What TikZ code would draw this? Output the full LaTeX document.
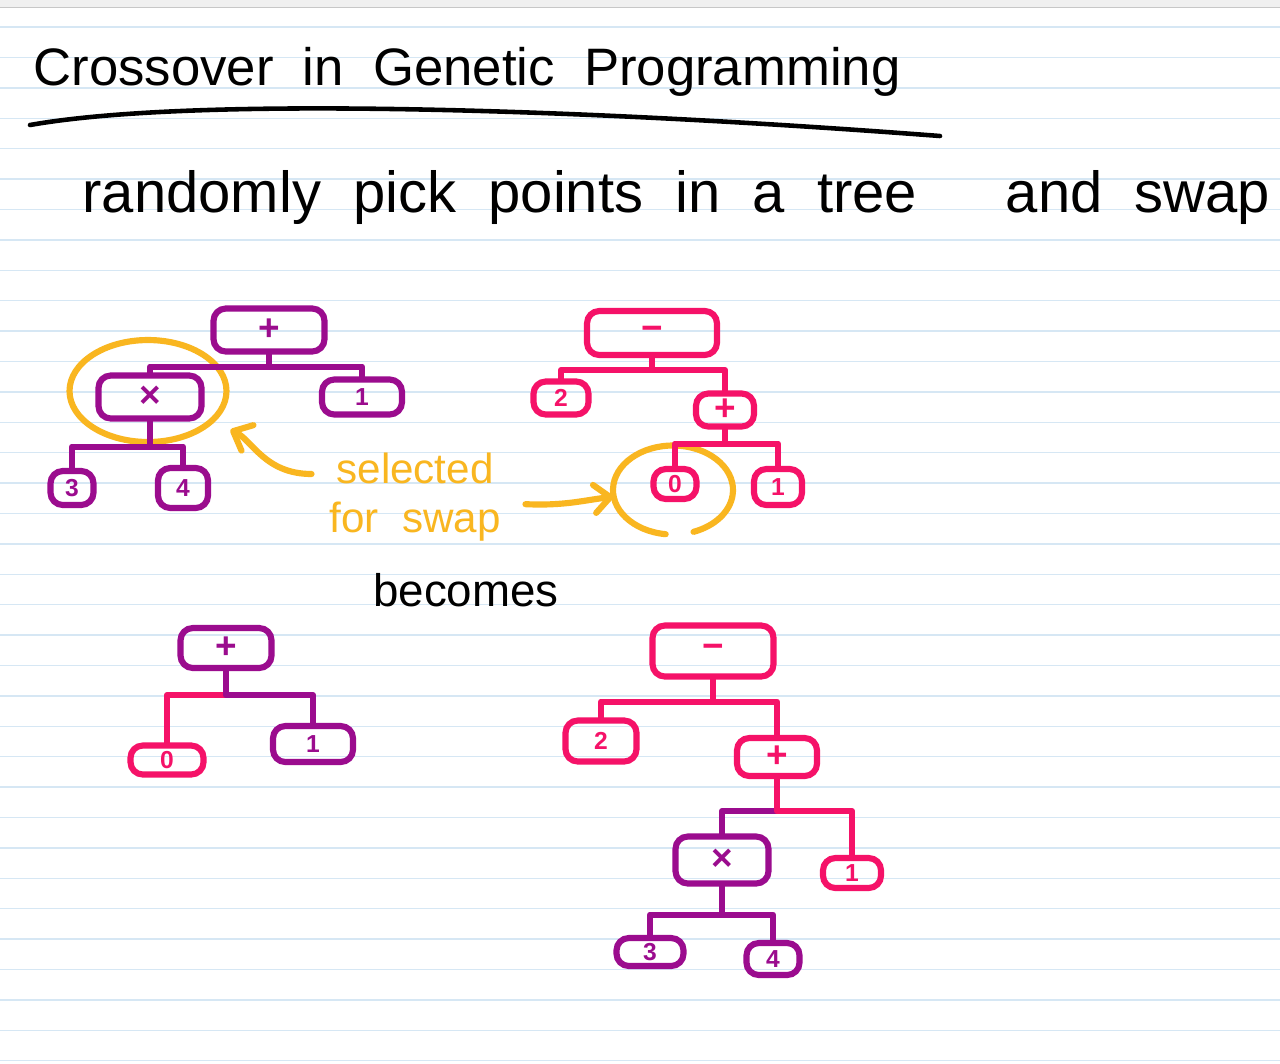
\documentclass[tikz,border=0pt]{standalone}
\usepackage{fontspec}
\setmainfont{Liberation Sans}
\newfontfamily\handfont[WordSpace=2]{Liberation Sans}
\usetikzlibrary{shapes,arrows.meta}
\definecolor{plum}{RGB}{155,12,142}
\definecolor{rose}{RGB}{245,18,104}
\definecolor{amber}{RGB}{249,182,32}
\definecolor{ruleblue}{RGB}{214,231,244}
\tikzstyle{box} = [rectangle, draw, rounded corners=7pt, line width=3.5pt, inner sep=0pt, font=\fontsize{14}{16}\selectfont\bfseries]
\tikzstyle{opbox} = [box, font=\fontsize{21}{22}\selectfont\bfseries]
\tikzstyle{branch} = [line width=3.5pt, line cap=round, line join=round]
\tikzstyle{pick} = [draw=amber, line width=3.5pt, line cap=round]
\tikzstyle{swaparrow} = [amber, line width=3.5pt, line cap=round, -{Straight Barb[round,length=9pt,width=16pt]}]
\tikzstyle{hand} = [inner sep=0pt, anchor=base]

\begin{document}
\begin{tikzpicture}[x=0.02cm, y=-0.02cm]
   % paper
   \useasboundingbox (0,0) rectangle (1280,1063);
   \fill[white] (0,0) rectangle (1280,1063);
   \fill[black!6] (0,0) rectangle (1280,7);
   \draw[black!22, line width=1pt] (0,7.5) -- (1280,7.5);
   \foreach \k in {0,...,34}
      \draw[ruleblue, line width=0.8pt] (0,{27+30.4*\k}) -- (1280,{27+30.4*\k});

   % text
   \node[hand, font=\handfont\fontsize{30}{36}\selectfont] (title) at (467,85) {Crossover in Genetic Programming};
   \draw[line width=2.6pt, line cap=round] (30,125) .. controls (200,95) and (600,110) .. (940,136);
   \node[hand, font=\handfont\fontsize{33}{40}\selectfont] (task) at (500,212) {randomly pick points in a tree};
   \node[hand, font=\handfont\fontsize{33}{40}\selectfont] (swap) at (1138,212) {and swap};
   \node[hand, font=\handfont\fontsize{26}{30}\selectfont] (becomes) at (466,606) {becomes};
   \node[amber, inner sep=0pt, align=center, font=\handfont\fontsize{24}{28}\selectfont] (sel) at (415,497) {selected\\for swap};

   % nodes, first pair
   \node[opbox, plum, minimum width=2.22cm, minimum height=.86cm] (plusA) at (269,330) {+};
   \node[opbox, plum, minimum width=2.06cm, minimum height=.86cm] (timesA) at (150,397) {×};
   \node[box, plum, minimum width=1.6cm, minimum height=.7cm] (oneA) at (362,397) {1};
   \node[box, plum, minimum width=.86cm, minimum height=.68cm] (threeA) at (72,488) {3};
   \node[box, plum, minimum width=1cm, minimum height=.8cm] (fourA) at (183,488) {4};

   \node[opbox, rose, minimum width=2.6cm, minimum height=.88cm] (minusB) at (652,333) {−};
   \node[box, rose, minimum width=1.1cm, minimum height=.66cm] (twoB) at (561,398) {2};
   \node[opbox, rose, minimum width=1.16cm, minimum height=.66cm] (plusB) at (725,410) {+};
   \node[box, rose, minimum width=.86cm, minimum height=.6cm] (zeroB) at (675,484) {0};
   \node[box, rose, minimum width=.96cm, minimum height=.72cm] (oneB) at (778,487) {1};

   % nodes, after the swap
   \node[opbox, plum, minimum width=1.82cm, minimum height=.8cm] (plusC) at (226,648) {+};
   \node[box, rose, minimum width=1.46cm, minimum height=.58cm] (zeroC) at (167,760) {0};
   \node[box, plum, minimum width=1.6cm, minimum height=.72cm] (oneC) at (313,744) {1};

   \node[opbox, rose, minimum width=2.42cm, minimum height=1.02cm] (minusD) at (713,651) {−};
   \node[box, rose, minimum width=1.42cm, minimum height=.82cm] (twoD) at (601,741) {2};
   \node[opbox, rose, minimum width=1.6cm, minimum height=.76cm] (plusD) at (777,757) {+};
   \node[opbox, plum, minimum width=1.86cm, minimum height=.94cm] (timesD) at (722,860) {×};
   \node[box, rose, minimum width=1.16cm, minimum height=.6cm] (oneD) at (852,873) {1};
   \node[box, plum, minimum width=1.34cm, minimum height=.56cm] (threeD) at (650,952) {3};
   \node[box, plum, minimum width=1.06cm, minimum height=.64cm] (fourD) at (773,959) {4};

   % selections
   \node[pick, ellipse, minimum width=3.14cm, minimum height=2.04cm, inner sep=0pt] (pickA) at (148,391) {};
   \node[ellipse, minimum width=2.4cm, minimum height=1.78cm, inner sep=0pt] (pickB) at (673,490) {};
   \draw[pick] (pickB.center) ++(97:60 and 44.5) arc[start angle=97, end angle=430, x radius=60, y radius=44.5];

   % edges
   \draw[branch, plum] (plusA.south) -- ++(0,12) -| (timesA.north);
   \draw[branch, plum] (plusA.south) -- ++(0,12) -| (oneA.north);
   \draw[branch, plum] (timesA.south) -- ++(0,25) -| (threeA.north);
   \draw[branch, plum] (timesA.south) -- ++(0,25) -| (fourA.north);

   \draw[branch, rose] (minusB.south) -- ++(0,12) -| (twoB.north);
   \draw[branch, rose] (minusB.south) -- ++(0,12) -| (plusB.north);
   \draw[branch, rose] (plusB.south) -- ++(0,14) -| (zeroB.north);
   \draw[branch, rose] (plusB.south) -- ++(0,14) -| (oneB.north);

   \draw[branch, rose] (plusC.south) ++(0,24) -| (zeroC.north);
   \draw[branch, plum] (plusC.south) -- ++(0,24) -| (oneC.north);

   \draw[branch, rose] (minusD.south) -- ++(0,22) -| (twoD.north);
   \draw[branch, rose] (minusD.south) -- ++(0,22) -| (plusD.north);
   \draw[branch, plum] (plusD.south) ++(0,32) -| (timesD.north);
   \draw[branch, rose] (plusD.south) -- ++(0,32) -| (oneD.north);
   \draw[branch, plum] (timesD.south) -- ++(0,28) -| (threeD.north);
   \draw[branch, plum] (timesD.south) -- ++(0,28) -| (fourD.north);

   \draw[swaparrow, shorten <=10pt, shorten >=10pt] (sel.165) .. controls (265,474) and (252,440) .. (pickA);
   \draw[swaparrow, shorten <=14pt] (sel.-4) .. controls (565,506) and (585,500) .. (pickB);
\end{tikzpicture}
\end{document}
